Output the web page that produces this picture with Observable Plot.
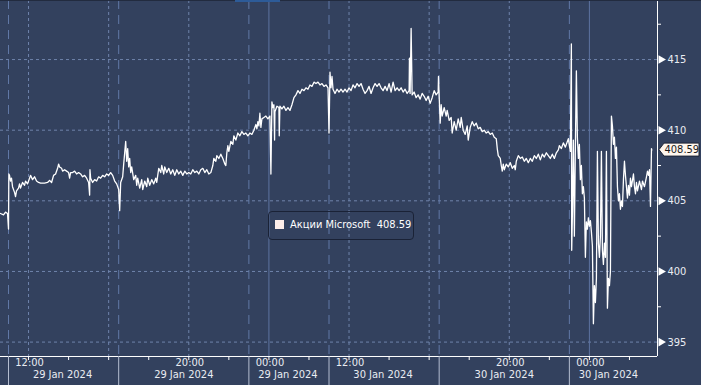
<!DOCTYPE html>
<html><head><meta charset="utf-8">
<script src="https://cdn.jsdelivr.net/npm/d3@7"></script>
<script src="https://cdn.jsdelivr.net/npm/@observablehq/plot@0.6"></script>
<style>
html,body{margin:0;padding:0;background:#33415e;}
#wrap{position:relative;width:701px;height:385px;overflow:hidden;background:#33415e;}
#wrap svg{display:block;}
.topline{position:absolute;left:0;top:0;width:701px;height:1px;background:#222b3f;}
.topsel{position:absolute;left:235px;top:0;width:45px;height:2px;background:#2d5b98;}
.legend{position:absolute;left:268px;top:211px;width:144px;height:27px;border:1px solid #1a2236;border-radius:4px;
  font-family:"DejaVu Sans Condensed","Liberation Sans",sans-serif;font-size:11px;color:#fff;white-space:pre;}
.legend .sw{position:absolute;left:6px;top:8px;width:9px;height:9px;background:#fdeeea;}
.legend .tx{position:absolute;left:21px;top:6px;line-height:14px;}
</style></head>
<body><div id="wrap"></div>
<script>
// trading-time minutes since 11:00 29 Jan 2024 (closed hours 03:00-11:00 removed)
const series = [[-24,404.1],[-15,404.0],[-9,404.2],[-3,404.1],[0,403.0],[1,406.9],[3,406.8],[6,406.4],[9,406.6],[12,406.0],[18,405.6],[21,405.3],[24,405.7],[30,405.9],[33,406.2],[36,405.9],[42,406.3],[48,406.1],[51,406.4],[57,406.2],[63,406.6],[66,406.8],[72,406.5],[78,406.7],[84,406.4],[90,406.3],[96,406.25],[108,406.25],[117,406.3],[123,406.45],[129,406.3],[135,406.8],[141,406.9],[147,407.3],[150,407.6],[153,407.4],[159,407.3],[162,407.1],[168,407.2],[174,407.1],[180,407.0],[183,406.6],[186,407.0],[192,407.0],[198,407.1],[204,406.9],[210,407.0],[216,406.9],[222,406.7],[228,406.8],[234,406.6],[240,406.3],[243,405.4],[244,407.2],[246,406.6],[252,406.3],[258,406.5],[264,406.4],[270,406.7],[276,406.6],[282,406.8],[288,406.7],[294,406.9],[300,406.8],[306,407.0],[312,406.8],[318,406.4],[324,406.2],[330,405.8],[333,404.3],[336,406.3],[342,406.7],[345,407.6],[348,408.4],[351,409.2],[354,407.8],[357,408.7],[360,407.4],[363,408.0],[366,407.0],[369,407.4],[375,406.5],[381,406.8],[384,406.1],[387,406.6],[393,405.9],[399,406.5],[402,405.8],[408,406.4],[414,406.0],[417,406.6],[423,406.1],[429,406.5],[435,406.2],[441,406.6],[444,406.3],[447,406.8],[450,407.3],[456,407.0],[459,407.5],[465,406.9],[468,407.4],[474,407.0],[480,407.3],[486,406.9],[492,407.2],[498,406.8],[504,407.2],[510,406.9],[516,407.1],[522,406.8],[528,407.1],[534,406.9],[540,407.0],[546,406.9],[552,407.2],[558,407.0],[564,407.1],[570,406.9],[576,407.2],[582,407.3],[588,407.0],[594,407.2],[600,406.9],[606,407.0],[612,407.5],[615,408.0],[621,407.8],[624,408.2],[630,408.0],[636,408.3],[642,408.0],[648,407.6],[651,407.5],[654,408.4],[657,408.9],[660,408.5],[666,409.2],[672,409.0],[675,409.6],[681,409.3],[687,409.8],[693,409.6],[699,409.9],[705,409.7],[711,409.8],[717,409.6],[723,409.8],[729,409.7],[735,410.0],[741,410.4],[744,410.1],[747,410.6],[750,410.3],[753,411.2],[756,410.2],[759,410.8],[765,410.9],[771,411.0],[777,410.8],[783,411.0],[786,406.9],[789,412.0],[792,411.6],[795,411.8],[797,409.3],[798,411.3],[804,411.7],[810,411.6],[811,409.6],[813,411.7],[819,411.5],[825,411.7],[831,411.4],[837,411.6],[843,411.4],[849,411.8],[855,412.3],[861,412.5],[867,412.8],[873,412.6],[879,412.9],[885,412.8],[891,413.0],[897,412.9],[903,413.2],[909,413.1],[915,413.4],[921,413.3],[927,413.4],[933,413.2],[939,413.3],[945,413.1],[951,413.2],[957,413.0],[960,409.8],[963,414.1],[966,413.0],[969,413.8],[972,412.9],[978,412.6],[984,412.9],[990,412.7],[996,412.9],[1002,412.7],[1008,412.9],[1014,412.7],[1020,413.0],[1026,412.8],[1032,413.2],[1038,413.0],[1044,413.3],[1050,413.1],[1056,413.3],[1062,412.9],[1068,412.6],[1074,412.8],[1080,413.1],[1086,412.6],[1092,413.0],[1098,413.3],[1104,413.1],[1110,413.3],[1116,413.0],[1122,412.8],[1128,413.1],[1134,412.8],[1140,413.3],[1146,412.7],[1152,413.4],[1158,412.8],[1164,413.0],[1170,412.8],[1176,413.0],[1182,412.7],[1188,412.9],[1194,412.6],[1200,412.8],[1201,415.1],[1203,412.6],[1206,417.2],[1209,412.5],[1215,412.7],[1221,412.3],[1227,412.5],[1233,412.2],[1239,412.6],[1245,412.4],[1251,412.1],[1257,412.4],[1263,411.9],[1269,412.3],[1275,412.8],[1281,412.5],[1287,412.7],[1288,413.8],[1290,412.4],[1293,410.5],[1296,411.8],[1299,411.0],[1305,411.6],[1311,411.0],[1314,411.4],[1320,410.7],[1326,410.9],[1329,409.8],[1335,410.6],[1341,410.0],[1347,410.8],[1353,410.2],[1356,410.9],[1362,410.0],[1368,409.7],[1374,410.3],[1377,409.3],[1383,410.2],[1389,410.6],[1395,410.3],[1401,410.5],[1407,410.1],[1413,410.2],[1419,409.9],[1425,410.0],[1431,409.8],[1437,409.9],[1443,409.7],[1449,409.8],[1455,409.5],[1461,409.4],[1464,408.7],[1467,408.2],[1473,408.0],[1476,407.5],[1479,407.1],[1482,407.6],[1485,407.2],[1491,407.6],[1497,407.4],[1503,407.7],[1509,407.3],[1515,407.5],[1518,407.2],[1521,407.8],[1527,408.2],[1533,408.0],[1539,408.1],[1545,407.8],[1551,408.0],[1557,407.7],[1563,408.0],[1569,407.8],[1575,408.2],[1581,408.0],[1587,408.3],[1593,407.9],[1599,408.3],[1605,408.1],[1611,408.4],[1617,408.2],[1623,408.0],[1629,408.3],[1635,408.0],[1641,408.4],[1647,408.6],[1650,408.9],[1656,408.7],[1662,409.1],[1668,408.8],[1674,409.2],[1677,409.4],[1680,408.9],[1683,408.5],[1686,416.1],[1687,401.5],[1689,404.0],[1692,409.3],[1695,402.5],[1698,408.8],[1701,414.2],[1704,409.5],[1707,408.0],[1710,409.0],[1713,406.5],[1716,407.5],[1719,405.5],[1722,406.0],[1725,405.2],[1728,401.0],[1731,403.5],[1734,403.0],[1737,403.8],[1740,403.2],[1743,403.6],[1746,402.8],[1749,401.8],[1752,396.3],[1755,399.0],[1758,397.8],[1761,399.5],[1764,408.5],[1767,402.0],[1770,401.0],[1773,402.5],[1776,408.5],[1779,401.5],[1782,400.5],[1785,402.0],[1788,401.0],[1791,408.5],[1794,397.4],[1797,399.5],[1800,399.0],[1803,400.0],[1806,411.0],[1809,410.3],[1812,409.0],[1815,409.5],[1818,408.0],[1821,408.8],[1824,406.0],[1827,405.0],[1830,405.5],[1833,404.4],[1836,405.0],[1839,404.6],[1842,406.5],[1845,407.8],[1848,406.8],[1851,406.0],[1854,405.2],[1857,406.1],[1860,405.4],[1863,406.6],[1866,406.0],[1872,406.9],[1875,406.0],[1878,405.5],[1881,406.3],[1884,405.7],[1890,406.4],[1896,405.8],[1899,406.4],[1905,406.0],[1911,406.7],[1914,407.1],[1917,406.8],[1920,407.2],[1923,404.6],[1926,408.7],[1927,408.59]];

const lastPrice = 408.59;
const seriesName = "Акции Microsoft";

const yTicks = [395, 400, 405, 410, 415];
const yMinorTicks = [397.5, 402.5, 407.5, 412.5, 417.5];
const twoHourTicks = [60,180,300,420,540,660,780,900,1020,1140,1260,1380,1500,1620,1740,1860];
const fourHourGrid = [60,300,540,1020,1260,1500];      // 12:00 16:00 20:00
const sessionBreaks = [0,330,720,960,1290,1680];       // 11:00 16:30 23:00 (03:00|11:00)
const midnights = [780,1740];
const timeLabels = [
  {m:60, time:"12:00", date:"29 Jan 2024", kind:"noon"},
  {m:540, time:"20:00", date:"29 Jan 2024", kind:"eve"},
  {m:780, time:"00:00", date:"29 Jan 2024", kind:"mid"},
  {m:1020, time:"12:00", date:"30 Jan 2024", kind:"noon"},
  {m:1500, time:"20:00", date:"30 Jan 2024", kind:"eve"},
  {m:1740, time:"00:00", date:"30 Jan 2024", kind:"mid"}
];

const W = 701, H = 385, mR = 44, mB = 29;
const xDomain = [-24, 1944];
const yDomain = [393.98, 419.18];
const minPerPx = (xDomain[1]-xDomain[0])/(W-mR);
const valPerPx = (yDomain[1]-yDomain[0])/(H-mB);
const font = '"DejaVu Sans Condensed","Liberation Sans",sans-serif';
const txt = "#e9ecf2";
const data = series.map(([m,p]) => ({m, p}));

const dateMark = (kind, dx) => Plot.text(timeLabels.filter(d => d.kind === kind), {
  x: "m", frameAnchor: "bottom", dy: 21, dx, text: "date", fill: txt, textAnchor: "middle"
});

const chart = Plot.plot({
  width: W, height: H,
  marginLeft: 0, marginRight: mR, marginTop: 0, marginBottom: mB,
  x: {domain: xDomain, axis: null},
  y: {domain: yDomain, axis: null},
  style: {background: "#33415e", fontFamily: font, fontSize: "11px", overflow: "visible"},
  marks: [
    Plot.ruleY(yTicks, {stroke: "#6f83ab", strokeDasharray: "3,3", strokeWidth: 1}),
    Plot.ruleX(fourHourGrid, {stroke: "#6f83ab", strokeDasharray: "3,3", strokeWidth: 1}),
    Plot.ruleX(sessionBreaks, {stroke: "#6178a6", strokeDasharray: "9,6", strokeWidth: 1}),
    Plot.ruleX(midnights, {stroke: "#5d73a0", strokeWidth: 1}),
    Plot.line(data, {x: "m", y: "p", stroke: "#ffffff", strokeWidth: 1.3}),
    // axes
    Plot.ruleY([yDomain[0]], {stroke: "#ffffff", strokeWidth: 1}),
    Plot.ruleX([xDomain[1]], {stroke: "#ffffff", strokeWidth: 1}),
    Plot.ruleX(twoHourTicks, {y1: () => yDomain[0], y2: () => yDomain[0] - 4*valPerPx, stroke: "#ffffff"}),
    Plot.ruleX(sessionBreaks, {y1: () => yDomain[0], y2: () => yDomain[0] - mB*valPerPx, stroke: "#b4bdd0"}),
    Plot.ruleY(yMinorTicks, {x1: () => xDomain[1], x2: () => xDomain[1] + 4*minPerPx, stroke: "#ffffff"}),
    Plot.dot(yTicks, {y: d => d, frameAnchor: "right", dx: 3.5, symbol: "triangle", r: 3.2, rotate: 90, fill: "#ffffff", stroke: "none"}),
    Plot.text(yTicks, {y: d => d, frameAnchor: "right", dx: 10, textAnchor: "start", text: d => String(d), fill: txt}),
    Plot.text(timeLabels, {x: "m", frameAnchor: "bottom", dy: 9, dx: 1, text: "time", fill: txt}),
    dateMark("noon", 34),
    dateMark("eve", -5),
    dateMark("mid", 19)
  ]
});

const wrap = document.getElementById("wrap");
wrap.appendChild(chart);

// last-price tag on the right axis, placed with the plot's scales
const sy = chart.scale("y").apply(lastPrice);
const sx = chart.scale("x").apply(xDomain[1]);
const svg = d3.select(chart);
const g = svg.append("g");
g.append("path")
  .attr("d", `M${sx+2},${sy} L${sx+7},${sy-6.5} L${sx+42},${sy-6.5} L${sx+42},${sy+6.5} L${sx+7},${sy+6.5} Z`)
  .attr("fill", "#fff6ee").attr("stroke", "#1b2233").attr("stroke-width", 1);
g.append("text").attr("x", sx+7.5).attr("y", sy).attr("dy", "0.35em")
  .attr("text-anchor", "start")
  .attr("fill", "#1a1a1a").attr("font-family", font).attr("font-size", 11)
  .text(lastPrice.toFixed(2));

// top strip and legend box
const top1 = document.createElement("div"); top1.className = "topline"; wrap.appendChild(top1);
const top2 = document.createElement("div"); top2.className = "topsel"; wrap.appendChild(top2);
const lg = document.createElement("div");
lg.className = "legend";
lg.innerHTML = `<div class="sw"></div><div class="tx">${seriesName}  ${lastPrice.toFixed(2)}</div>`;
wrap.appendChild(lg);
</script>
</body></html>
